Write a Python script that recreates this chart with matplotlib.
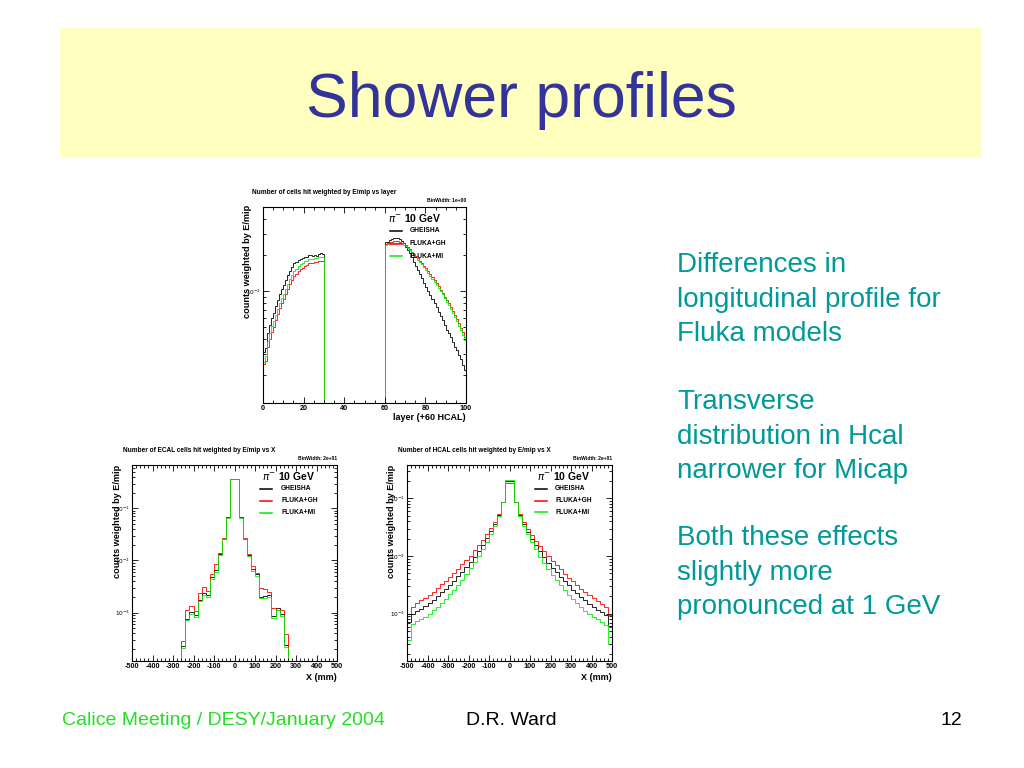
import numpy as np
import matplotlib
matplotlib.use("Agg")
import matplotlib.pyplot as plt
from matplotlib.lines import Line2D
from matplotlib.patches import Rectangle
from matplotlib.ticker import MultipleLocator, LogLocator, NullFormatter

plt.rcParams['font.family'] = ['Liberation Sans', 'DejaVu Sans']
plt.rcParams['axes.unicode_minus'] = False

# ------------------------------------------------------------------
# DATA  (log10 of normalised "counts weighted by E/mip")
# ------------------------------------------------------------------
series_names = ["GHEISHA", "FLUKA+GH", "FLUKA+MI"]
series_colors = ["#000000", "#ff0000", "#00ee00"]

# Longitudinal profile: layers 0-29 ECAL, 30-59 empty, 60-99 HCAL
layer_edges = np.arange(0, 101, 1)
ecal_layer_gheisha = [-2.506, -2.475, -2.35, -2.283, -2.225, -2.183, -2.125, -2.075, -2.025, -1.983,
                      -1.95, -1.908, -1.867, -1.833, -1.80, -1.767, -1.758, -1.742, -1.733, -1.725,
                      -1.717, -1.717, -1.70, -1.70, -1.708, -1.70, -1.708, -1.692, -1.683, -1.692]
ecal_layer_flukagh = [-2.608, -2.583, -2.467, -2.40, -2.342, -2.30, -2.242, -2.192, -2.142, -2.10,
                      -2.067, -2.025, -1.983, -1.942, -1.908, -1.875, -1.858, -1.833, -1.817, -1.808,
                      -1.792, -1.783, -1.767, -1.767, -1.767, -1.758, -1.758, -1.75, -1.746, -1.75]
ecal_layer_flukami = [-2.592, -2.542, -2.417, -2.35, -2.292, -2.25, -2.20, -2.15, -2.10, -2.058,
                      -2.025, -1.983, -1.942, -1.90, -1.867, -1.833, -1.817, -1.792, -1.775, -1.767,
                      -1.75, -1.75, -1.733, -1.733, -1.733, -1.725, -1.725, -1.717, -1.717, -1.717]
empty_layers = 30
hcal_layer_gheisha = [-1.589, -1.589, -1.575, -1.567, -1.562, -1.558, -1.558, -1.567, -1.581, -1.60,
                      -1.631, -1.658, -1.683, -1.717, -1.756, -1.792, -1.825, -1.858, -1.892, -1.931,
                      -1.964, -1.998, -2.033, -2.069, -2.103, -2.136, -2.173, -2.208, -2.242, -2.283,
                      -2.325, -2.353, -2.386, -2.423, -2.464, -2.492, -2.533, -2.569, -2.617, -2.658]
hcal_layer_flukagh = [-1.608, -1.60, -1.592, -1.589, -1.583, -1.583, -1.583, -1.588, -1.596, -1.604,
                      -1.617, -1.633, -1.65, -1.671, -1.692, -1.708, -1.725, -1.746, -1.767, -1.788,
                      -1.808, -1.833, -1.858, -1.883, -1.908, -1.933, -1.958, -1.988, -2.014, -2.046,
                      -2.075, -2.104, -2.131, -2.167, -2.20, -2.233, -2.267, -2.304, -2.339, -2.381]
hcal_layer_flukami = [-1.613, -1.608, -1.604, -1.60, -1.596, -1.596, -1.596, -1.60, -1.604, -1.613,
                      -1.625, -1.642, -1.658, -1.679, -1.70, -1.717, -1.738, -1.758, -1.779, -1.80,
                      -1.821, -1.846, -1.871, -1.896, -1.921, -1.946, -1.971, -2.0, -2.029, -2.058,
                      -2.088, -2.117, -2.146, -2.183, -2.217, -2.25, -2.288, -2.325, -2.363, -2.408]

# Transverse profiles: 50 bins of 20 mm from -500 to 500
x_edges = np.arange(-500, 501, 20)
ecal_empty_bins_each_side = 12          # ECAL has hits only in |X| < 260 mm
ecal_x_gheisha = [-3.64, -3.12, -2.99, -3.05, -2.75, -2.62, -2.67, -2.32, -2.19, -1.88, -1.58, -1.17, -0.44,
                  -0.44, -1.17, -1.58, -1.90, -2.17, -2.26, -2.70, -2.69, -2.67, -3.07, -2.92, -3.02, -3.63]
ecal_x_flukagh = [-3.55, -2.96, -2.87, -2.97, -2.62, -2.51, -2.58, -2.26, -2.06, -1.85, -1.57, -1.16, -0.43,
                  -0.43, -1.16, -1.57, -1.88, -2.11, -2.24, -2.52, -2.54, -2.60, -2.92, -2.96, -2.95, -3.41]
ecal_x_flukami = [-3.68, -3.14, -3.02, -3.08, -2.78, -2.66, -2.71, -2.35, -2.22, -1.90, -1.59, -1.18, -0.44,
                  -0.44, -1.18, -1.59, -1.92, -2.20, -2.29, -2.72, -2.72, -2.70, -3.10, -2.95, -3.06, -3.66]

hcal_x_gheisha = [-3.14, -3.00, -2.95, -2.91, -2.87, -2.82, -2.76, -2.70, -2.63, -2.57, -2.50, -2.43, -2.35,
                  -2.27, -2.19, -2.11, -2.01, -1.91, -1.80, -1.69, -1.57, -1.44, -1.28, -1.06, -0.69,
                  -0.69, -1.06, -1.29, -1.45, -1.58, -1.70, -1.81, -1.92, -2.02, -2.12, -2.20, -2.28, -2.36,
                  -2.44, -2.51, -2.58, -2.64, -2.71, -2.77, -2.83, -2.88, -2.93, -2.97, -3.03, -3.22]
hcal_x_flukagh = [-3.00, -2.88, -2.82, -2.77, -2.72, -2.67, -2.62, -2.56, -2.49, -2.43, -2.37, -2.30, -2.22,
                  -2.14, -2.07, -1.99, -1.90, -1.81, -1.72, -1.62, -1.52, -1.41, -1.27, -1.07, -0.74,
                  -0.74, -1.07, -1.27, -1.41, -1.53, -1.63, -1.73, -1.82, -1.91, -2.00, -2.08, -2.15, -2.23,
                  -2.31, -2.38, -2.44, -2.50, -2.57, -2.63, -2.68, -2.73, -2.78, -2.83, -2.89, -3.02]
hcal_x_flukami = [-3.46, -3.17, -3.12, -3.09, -3.05, -3.00, -2.94, -2.88, -2.81, -2.74, -2.66, -2.58, -2.50,
                  -2.41, -2.31, -2.21, -2.11, -2.00, -1.87, -1.75, -1.61, -1.47, -1.30, -1.07, -0.68,
                  -0.68, -1.07, -1.31, -1.48, -1.62, -1.76, -1.88, -2.01, -2.12, -2.22, -2.32, -2.42, -2.51,
                  -2.59, -2.67, -2.75, -2.82, -2.89, -2.95, -3.01, -3.06, -3.10, -3.14, -3.20, -3.52]

layer_ticks = [0, 20, 40, 60, 80, 100]
x_ticks = [-500, -400, -300, -200, -100, 0, 100, 200, 300, 400, 500]

# ------------------------------------------------------------------
W, H = 1024, 768
fig = plt.figure(figsize=(W / 100, H / 100), dpi=100)
fig.patch.set_facecolor("white")


def fx(x):
    return x / W


def fy(y):
    return 1 - y / H


def add_ax(l, r, t, b):
    return fig.add_axes([fx(l), fy(b), (r - l) / W, (b - t) / H])


# slide title box
fig.patches.append(Rectangle((fx(60), fy(157)), (982 - 60) / W, (157 - 28) / H,
                             transform=fig.transFigure, facecolor="#FFFFBF",
                             edgecolor="none", zorder=0))
fig.text(fx(521), fy(117), "Shower profiles", ha="center", va="baseline",
         fontsize=45, color="#333399")

# right-hand bullet text
teal = "#009999"
text_lines = [("Differences in", 272), ("longitudinal profile for", 307), ("Fluka models", 341),
              ("Transverse", 409), ("distribution in Hcal", 444), ("narrower for Micap", 478),
              ("Both these effects", 545), ("slightly more", 580), ("pronounced at 1 GeV", 614)]
for s, yb in text_lines:
    fig.text(fx(677), fy(yb), s, ha="left", va="baseline", fontsize=20, color=teal)

# footer
fig.text(fx(62), fy(725), "Calice Meeting / DESY/January 2004", ha="left", va="baseline",
         fontsize=14, color="#22e022")
fig.text(fx(466), fy(725), "D.R. Ward", ha="left", va="baseline", fontsize=14, color="black")
fig.text(fx(962), fy(725), "12", ha="right", va="baseline", fontsize=14, color="black")


def to_vals(logs):
    return np.power(10.0, np.asarray(logs, dtype=float))


def floor0(v):
    v = np.asarray(v, dtype=float)
    return np.where(v > 0, v, 1e-12)


def style_axis(ax, xticks, xminor, ylog_lo, ylog_hi, ymajors):
    ax.set_yscale("log")
    ax.set_ylim(10 ** ylog_lo, 10 ** ylog_hi)
    ax.set_xlim(xticks[0], xticks[-1])
    ax.set_xticks(xticks)
    ax.set_xticklabels([str(t) for t in xticks], fontsize=5.2, fontweight="bold")
    ax.xaxis.set_minor_locator(MultipleLocator(xminor))
    ax.set_yticks([10.0 ** e for e in ymajors])
    ax.set_yticklabels([r"$10^{%d}$" % e for e in ymajors], fontsize=4.2)
    ax.yaxis.set_minor_locator(LogLocator(base=10, subs=np.arange(2, 10)))
    ax.yaxis.set_minor_formatter(NullFormatter())
    ax.tick_params(which="both", direction="in", top=True, right=True, width=0.6,
                   pad=1.5, colors="black")
    ax.tick_params(which="major", length=4)
    ax.tick_params(which="minor", length=2)
    for sp in ax.spines.values():
        sp.set_linewidth(0.8)


def legend(xpi, ypi, xline, xtext, ys):
    fig.text(fx(xpi), fy(ypi), r"$\pi^{-}$ 10 GeV", ha="left", va="center",
             fontsize=7.5, fontweight="bold")
    for name, col, yy in zip(series_names, series_colors, ys):
        fig.add_artist(Line2D([fx(xline[0]), fx(xline[1])], [fy(yy), fy(yy)],
                              transform=fig.transFigure, color=col, lw=1.1))
        fig.text(fx(xtext), fy(yy), name, ha="left", va="center", fontsize=4.8,
                 fontweight="bold")


# ---------------- top: longitudinal profile ----------------
ax1 = add_ax(263, 466, 207, 403)
layer_sets = [(ecal_layer_gheisha, hcal_layer_gheisha),
              (ecal_layer_flukagh, hcal_layer_flukagh),
              (ecal_layer_flukami, hcal_layer_flukami)]
for (e, h), col in zip(layer_sets, series_colors):
    vals = np.concatenate([to_vals(e), np.zeros(empty_layers), to_vals(h)])
    ax1.stairs(floor0(vals), layer_edges, baseline=None, color=col, lw=0.6)
style_axis(ax1, layer_ticks, 5, -2.933, -1.30, [-2])
fig.text(fx(252), fy(192), "Number of cells hit weighted by E/mip vs layer", ha="left",
         va="center", fontsize=4.7, fontweight="bold")
fig.text(fx(466), fy(200.5), "BinWidth: 1e+00", ha="right", va="center", fontsize=3.6,
         fontweight="bold")
fig.text(fx(247.5), fy(205), "counts weighted by E/mip", rotation=90, ha="center", va="top",
         fontsize=6.6, fontweight="bold")
fig.text(fx(466), fy(418), "layer (+60 HCAL)", ha="right", va="center", fontsize=6.5,
         fontweight="bold")
legend(388, 218, (390, 402), 410, [231, 243.5, 256])

# ---------------- bottom left: ECAL transverse ----------------
ax2 = add_ax(132, 337, 465, 661)
pad = np.zeros(ecal_empty_bins_each_side)
for logs, col in zip([ecal_x_gheisha, ecal_x_flukagh, ecal_x_flukami], series_colors):
    vals = np.concatenate([pad, to_vals(logs), pad])
    ax2.stairs(floor0(vals), x_edges, baseline=None, color=col, lw=0.6)
style_axis(ax2, x_ticks, 20, -3.93, -0.167, [-3, -2, -1])
fig.text(fx(123), fy(450), "Number of ECAL cells hit weighted by E/mip vs X", ha="left",
         va="center", fontsize=4.7, fontweight="bold")
fig.text(fx(337), fy(459), "BinWidth: 2e+01", ha="right", va="center", fontsize=3.6,
         fontweight="bold")
fig.text(fx(117), fy(465), "counts weighted by E/mip", rotation=90, ha="center", va="top",
         fontsize=6.6, fontweight="bold")
fig.text(fx(337), fy(677), "X (mm)", ha="right", va="center", fontsize=6.5, fontweight="bold")
legend(262, 476, (260, 272), 281, [489, 501, 512.5])

# ---------------- bottom right: HCAL transverse ----------------
ax3 = add_ax(407, 612, 465, 661)
for logs, col in zip([hcal_x_gheisha, hcal_x_flukagh, hcal_x_flukami], series_colors):
    ax3.stairs(to_vals(logs), x_edges, baseline=None, color=col, lw=0.6)
style_axis(ax3, x_ticks, 20, -3.82, -0.42, [-3, -2, -1])
fig.text(fx(398), fy(450), "Number of HCAL cells hit weighted by E/mip vs X", ha="left",
         va="center", fontsize=4.7, fontweight="bold")
fig.text(fx(612), fy(459), "BinWidth: 2e+01", ha="right", va="center", fontsize=3.6,
         fontweight="bold")
fig.text(fx(392), fy(465), "counts weighted by E/mip", rotation=90, ha="center", va="top",
         fontsize=6.6, fontweight="bold")
fig.text(fx(612), fy(677), "X (mm)", ha="right", va="center", fontsize=6.5, fontweight="bold")
legend(537, 476, (535, 547), 555, [489, 501, 512])

fig.savefig("out.png", dpi=100)
